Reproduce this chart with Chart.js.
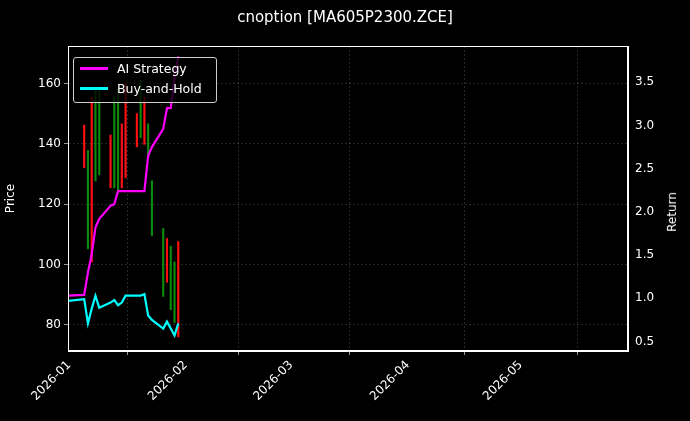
<!DOCTYPE html>
<html>
<head>
<meta charset="utf-8">
<script src="https://cdn.jsdelivr.net/npm/chart.js@4"></script>
<style>
  body { margin: 0; background: #000; }
  #wrap { position: relative; width: 690px; height: 421px; }
  #legend { position: absolute; left: 73px; top: 57px; width: 142px; height: 44px;
    border: 1px solid #ccc; border-radius: 3px; background: rgba(0,0,0,0.8);
    font: 12.5px "DejaVu Sans", sans-serif; color: #fff; }
  .row { position: absolute; left: 6px; display: flex; align-items: center; }
  .sw { width: 28px; height: 3px; margin-right: 9px; }
  #ret { position: absolute; left: 652px; top: 205px; transform: rotate(-90deg);
    font: 12px "DejaVu Sans", sans-serif; color: #fff; }
</style>
</head>
<body>
<div id="wrap">
  <canvas id="graficoCarte" width="690" height="421"></canvas>
  <div id="legend">
    <div class="row" style="top:3px"><div class="sw" style="background:#ff00ff"></div>AI Strategy</div>
    <div class="row" style="top:23px"><div class="sw" style="background:#00ffff"></div>Buy-and-Hold</div>
  </div>
  <div id="ret">Return</div>
</div>
<script>
// giorni dal 2026-01-01
const giorniCandele = [4, 5, 6, 7, 8, 11, 12, 13, 14, 15, 18, 19, 20, 21, 22, 25, 26, 27, 28, 29];
const minimi = [132.1, 105.2, 100.8, 127.7, 129.7, 125.4, 125.4, 124.0, 125.4, 128.7, 139.0, 142.0, 139.8, 135.5, 109.6, 89.4, 94.1, 85.0, 80.7, 76.0];
const massimi = [146.2, 137.8, 155.6, 158.0, 159.0, 142.9, 155.6, 158.0, 146.6, 160.0, 150.0, 161.0, 155.6, 146.6, 127.7, 111.9, 108.6, 106.0, 100.8, 107.6];
const rialzo = [false, true, false, true, true, false, true, true, false, false, false, true, false, true, true, true, false, true, true, false];

const giorniLinee = [-0.3, 4, 5, 6, 7, 8, 11, 12, 13, 14, 15, 18, 19, 20, 21, 22, 25, 26, 27, 28, 29];
const strategiaAI = [1.03, 1.04, 1.30, 1.51, 1.82, 1.92, 2.07, 2.09, 2.24, 2.24, 2.24, 2.24, 2.24, 2.24, 2.65, 2.75, 2.96, 3.20, 3.20, 3.55, 3.80];
const buyHold = [0.97, 0.99, 0.71, 0.88, 1.03, 0.89, 0.95, 0.98, 0.92, 0.95, 1.03, 1.03, 1.03, 1.05, 0.80, 0.75, 0.65, 0.73, 0.65, 0.57, 0.71];

const tickGiorni = [0, 31, 59, 90, 120];
const tickEtichette = ['2026-01', '2026-02', '2026-03', '2026-04', '2026-05'];

const griglia = { color: 'rgba(150,150,150,0.45)', lineWidth: 0.6, tickColor: '#fff', tickLength: 4 };
const bordo = { color: '#fff', dash: [2, 2] };
const fontTick = { family: 'DejaVu Sans', size: 12 };

const ctx = document.getElementById('graficoCarte').getContext('2d');
new Chart(ctx, {
    data: {
        datasets: [
            {
                type: 'bar',
                data: giorniCandele.map((g, i) => ({ x: g, y: [minimi[i], massimi[i]] })),
                backgroundColor: rialzo.map(r => r ? '#0b8a0b' : '#ff1010'),
                barThickness: 1.5,
                yAxisID: 'y',
                order: 2
            },
            {
                type: 'line',
                data: giorniLinee.map((g, i) => ({ x: g, y: strategiaAI[i] })),
                borderColor: '#ff00ff', borderWidth: 2.2, pointRadius: 0, yAxisID: 'y1', order: 1
            },
            {
                type: 'line',
                data: giorniLinee.map((g, i) => ({ x: g, y: buyHold[i] })),
                borderColor: '#00ffff', borderWidth: 2.2, pointRadius: 0, yAxisID: 'y1', order: 0
            }
        ]
    },
    options: {
        responsive: false,
        animation: false,
        plugins: {
            legend: { display: false },
            tooltip: { enabled: false },
            title: { display: true, text: 'cnoption [MA605P2300.ZCE]', color: '#fff',
                font: { family: 'DejaVu Sans', size: 15, weight: 'normal' }, padding: { top: 9, bottom: 19 } }
        },
        scales: {
            x: {
                type: 'linear', min: -0.3, max: 148.5, offset: false,
                afterBuildTicks: s => { s.ticks = tickGiorni.map(v => ({ value: v })); },
                afterFit: s => { s.height = 70; },
                ticks: { color: '#fff', font: fontTick, maxRotation: 45, minRotation: 45,
                    callback: v => tickEtichette[tickGiorni.indexOf(v)] },
                grid: griglia,
                border: { color: '#fff', dash: [2, 2] }
            },
            y: {
                position: 'left', min: 71.3, max: 172.4,
                afterBuildTicks: s => { s.ticks = [80, 100, 120, 140, 160].map(v => ({ value: v })); },
                afterFit: s => { s.width = 68; },
                title: { display: true, text: 'Price', color: '#fff', font: fontTick },
                ticks: { color: '#fff', font: fontTick },
                grid: griglia,
                border: { color: '#fff', dash: [2, 2] }
            },
            y1: {
                position: 'right', min: 0.39, max: 3.92,
                afterBuildTicks: s => { s.ticks = [0.5, 1, 1.5, 2, 2.5, 3, 3.5].map(v => ({ value: v })); },
                afterFit: s => { s.width = 62; },
                ticks: { color: '#fff', font: fontTick, callback: v => v.toFixed(1) },
                grid: { display: false, tickColor: '#fff', tickLength: 4 },
                border: { color: '#fff' }
            }
        }
    },
    plugins: [{
        id: 'sfondo',
        beforeDraw: c => { c.ctx.save(); c.ctx.fillStyle = '#000'; c.ctx.fillRect(0, 0, c.width, c.height); c.ctx.restore(); },
        afterDraw: c => {
            // cornice continua attorno all'area del grafico
            const a = c.chartArea, g = c.ctx;
            g.save(); g.strokeStyle = '#fff'; g.lineWidth = 1; g.setLineDash([]);
            g.strokeRect(a.left + 0.5, a.top + 0.5, a.right - a.left - 1, a.bottom - a.top - 1);
            g.restore();
        }
    }]
});
</script>
</body>
</html>
